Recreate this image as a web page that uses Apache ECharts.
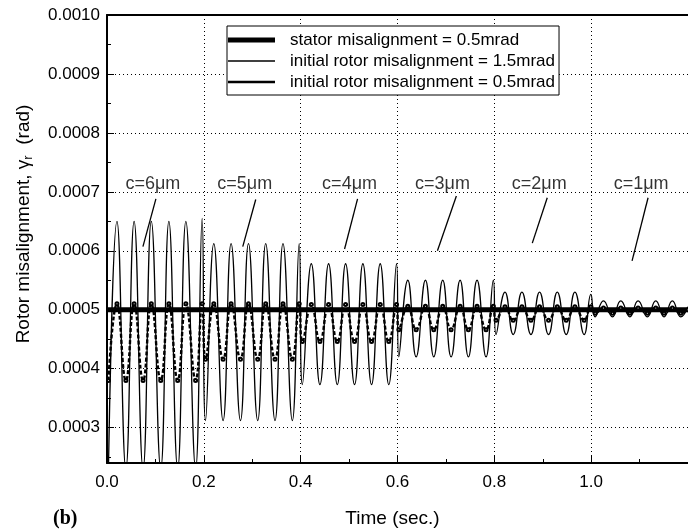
<!DOCTYPE html>
<html>
<head>
<meta charset="utf-8">
<script src="https://cdn.jsdelivr.net/npm/echarts@6/dist/echarts.min.js"></script>
<style>
  html, body { margin: 0; padding: 0; background: #fff; }
  #chart { width: 688px; height: 529px; }
</style>
</head>
<body>
<div id="chart"></div>
<script>
// extreme points (troughs / peaks) of the rotor response
const times = [
  0.003, 0.0206, 0.039, 0.056, 0.0745, 0.0915, 0.111, 0.1278, 0.146, 0.1629, 0.183, 0.1965,
  0.2035, 0.2206, 0.2398, 0.2563, 0.2757, 0.2922, 0.3113, 0.3278, 0.347, 0.3635, 0.3828, 0.397,
  0.4035, 0.422, 0.4398, 0.4577, 0.4757, 0.4928, 0.5113, 0.5285, 0.5464, 0.5643, 0.582, 0.598,
  0.6027, 0.6213, 0.6385, 0.6577, 0.6749, 0.6934, 0.7107, 0.7293, 0.7464, 0.7643, 0.7829, 0.798,
  0.8035, 0.822, 0.839, 0.857, 0.8756, 0.8934, 0.912, 0.93, 0.9485, 0.9664, 0.9856, 0.9994,
  1.0082, 1.0254, 1.044, 1.0612, 1.08, 1.0969, 1.116, 1.1334, 1.1505, 1.1677, 1.185, 1.2
];
// initial rotor misalignment = 1.5mrad
const rotor15 = [
  0.00023, 0.00065, 0.00023, 0.00065, 0.00023, 0.00065, 0.00023, 0.00065, 0.00023, 0.00065, 0.00023, 0.000655,
  0.000312, 0.000612, 0.000312, 0.000612, 0.000312, 0.000612, 0.000312, 0.000612, 0.000312, 0.000612, 0.000312, 0.000612,
  0.000373, 0.000578, 0.000373, 0.000578, 0.000373, 0.000578, 0.000373, 0.000578, 0.000373, 0.000578, 0.000373, 0.000578,
  0.00042, 0.00055, 0.00042, 0.00055, 0.00042, 0.00055, 0.00042, 0.00055, 0.00042, 0.00055, 0.00042, 0.00055,
  0.000458, 0.00053, 0.000458, 0.00053, 0.000458, 0.00053, 0.000458, 0.00053, 0.000458, 0.00053, 0.000458, 0.000526,
  0.000488, 0.000515, 0.000488, 0.000515, 0.000488, 0.000515, 0.000488, 0.000515, 0.000488, 0.000515, 0.000488, 0.000505
];
// initial rotor misalignment = 0.5mrad
const rotor05 = [
  0.00038, 0.00051, 0.00038, 0.00051, 0.00038, 0.00051, 0.00038, 0.00051, 0.00038, 0.00051, 0.00038, 0.00051,
  0.000416, 0.00051, 0.000416, 0.00051, 0.000416, 0.00051, 0.000416, 0.00051, 0.000416, 0.00051, 0.000416, 0.00051,
  0.000446, 0.000509, 0.000446, 0.000509, 0.000446, 0.000509, 0.000446, 0.000509, 0.000446, 0.000509, 0.000446, 0.000509,
  0.000466, 0.000506, 0.000466, 0.000506, 0.000466, 0.000506, 0.000466, 0.000506, 0.000466, 0.000506, 0.000466, 0.000506,
  0.000482, 0.000505, 0.000482, 0.000505, 0.000482, 0.000505, 0.000482, 0.000505, 0.000482, 0.000505, 0.000482, 0.000505,
  0.000494, 0.000503, 0.000494, 0.000503, 0.000494, 0.000503, 0.000494, 0.000503, 0.000494, 0.000503, 0.000494, 0.0005
];
const statorTimes = [0, 1.2];
const statorVals = [0.0005, 0.0005];

// clearance annotations
const annoText = ['c=6μm', 'c=5μm', 'c=4μm', 'c=3μm', 'c=2μm', 'c=1μm'];
const annoT = [0.0948, 0.2845, 0.501, 0.6928, 0.8928, 1.1031];
const annoV = [0.000714, 0.000714, 0.000714, 0.000714, 0.000714, 0.000714];
const leadFromT = [0.101, 0.3072, 0.5175, 0.7216, 0.9093, 1.1175];
const leadFromV = [0.000688, 0.000687, 0.000688, 0.000693, 0.00069, 0.00069];
const leadToT = [0.0742, 0.2804, 0.4907, 0.6825, 0.8784, 1.0845];
const leadToV = [0.000607, 0.000607, 0.000603, 0.0006, 0.000613, 0.000583];

const names = [
  'stator misalignment = 0.5mrad',
  'initial rotor misalignment = 1.5mrad',
  'initial rotor misalignment = 0.5mrad'
];

const font = 'Liberation Sans, Arial, sans-serif';
const chart = echarts.init(document.getElementById('chart'));

const zip = (xs, ys) => xs.map((x, i) => [x, ys[i]]);

chart.setOption({
  animation: false,
  backgroundColor: '#fff',
  textStyle: { fontFamily: font, color: '#000' },
  title: {
    text: '(b)',
    left: 48,
    top: 504,
    textStyle: { fontFamily: 'Liberation Serif, serif', fontWeight: 'bold', fontSize: 20, color: '#000' }
  },
  grid: { left: 107, right: 0, top: 15, bottom: 66, outerBoundsMode: 'none' },
  legend: {
    orient: 'vertical',
    left: 227,
    top: 26,
    padding: [5, 4, 4, 1],
    itemGap: 3,
    itemWidth: 47,
    itemHeight: 14,
    backgroundColor: '#fff',
    borderColor: '#000',
    borderWidth: 1,
    textStyle: { fontFamily: font, fontSize: 17, color: '#000', lineHeight: 18, padding: [0, 0, 0, 10] },
    data: [
      { name: names[0], icon: 'path://M0,0H47V5H0Z', itemStyle: { color: '#000', borderWidth: 0 } },
      { name: names[1], icon: 'path://M0,0H47V1.4H0Z', itemStyle: { color: '#000', borderWidth: 0 } },
      { name: names[2], icon: 'path://M0,0H47V2.6H0Z', itemStyle: { color: '#000', borderWidth: 0 } }
    ]
  },
  xAxis: [
    {
      type: 'value',
      min: 0,
      max: 1.2,
      interval: 0.2,
      name: 'Time (sec.)',
      nameLocation: 'middle',
      nameGap: 46,
      nameTextStyle: { fontFamily: font, fontSize: 19, color: '#000', padding: [0, 10, 0, 0] },
      axisLine: { lineStyle: { color: '#000', width: 2 } },
      axisTick: { inside: true, length: 7, lineStyle: { color: '#000' } },
      minorTick: { show: true, splitNumber: 2, length: 4, lineStyle: { color: '#000' } },
      axisLabel: {
        fontFamily: font, fontSize: 17, color: '#000', margin: 11,
        showMaxLabel: false,
        formatter: v => v.toFixed(1)
      },
      splitLine: { show: true, lineStyle: { color: '#000', width: 1, type: [1, 3] } }
    },
    {
      type: 'value',
      position: 'top',
      min: 0,
      max: 1.2,
      axisLine: { show: true, lineStyle: { color: '#000', width: 2 } },
      axisTick: { show: false },
      axisLabel: { show: false },
      splitLine: { show: false }
    }
  ],
  yAxis: {
    type: 'value',
    min: 0.00024,
    max: 0.001,
    splitNumber: 8,
    name: 'Rotor misalignment, γ{sub|r}  (rad)',
    nameLocation: 'middle',
    nameGap: 72,
    nameTextStyle: {
      fontFamily: font, fontSize: 19, color: '#000', padding: [0, 0, 0, 30],
      rich: { sub: { fontFamily: font, fontSize: 13, padding: [10, 0, 0, 0] } }
    },
    axisLine: { show: true, lineStyle: { color: '#000', width: 2 } },
    axisTick: { inside: true, length: 7, lineStyle: { color: '#000' } },
    minorTick: { show: true, splitNumber: 2, length: 4, lineStyle: { color: '#000' } },
    axisLabel: {
      fontFamily: font, fontSize: 17, color: '#000', margin: 7,
      showMinLabel: false,
      formatter: v => v.toFixed(4)
    },
    splitLine: { show: true, lineStyle: { color: '#000', width: 1, type: [1, 3] } }
  },
  series: [
    {
      name: names[1],
      type: 'line',
      data: zip(times, rotor15),
      smooth: 0.5,
      showSymbol: false,
      lineStyle: { color: '#000', width: 1.3 },
      itemStyle: { color: '#000' },
      z: 2
    },
    {
      name: names[0],
      type: 'line',
      data: zip(statorTimes, statorVals),
      showSymbol: false,
      lineStyle: { color: '#000', width: 5 },
      itemStyle: { color: '#000' },
      z: 3
    },
    {
      name: names[2],
      type: 'line',
      data: zip(times, rotor05),
      smooth: 0.5,
      symbol: 'emptyCircle',
      symbolSize: 3,
      lineStyle: { color: '#000', width: 2.4, type: [4, 2] },
      itemStyle: { color: '#000', borderWidth: 1 },
      z: 4
    },
    {
      name: 'annotations',
      type: 'scatter',
      symbolSize: 0,
      data: annoText.map((t, i) => ({ name: t, value: [annoT[i], annoV[i]] })),
      label: {
        show: true,
        position: 'inside',
        formatter: '{b}',
        fontFamily: font,
        fontSize: 18,
        color: '#000'
      },
      markLine: {
        silent: true,
        symbol: 'none',
        label: { show: false },
        lineStyle: { color: '#000', width: 1.3, type: 'solid' },
        data: leadFromT.map((t, i) => [
          { coord: [t, leadFromV[i]] },
          { coord: [leadToT[i], leadToV[i]] }
        ])
      },
      z: 5
    }
  ]
});
</script>
</body>
</html>
